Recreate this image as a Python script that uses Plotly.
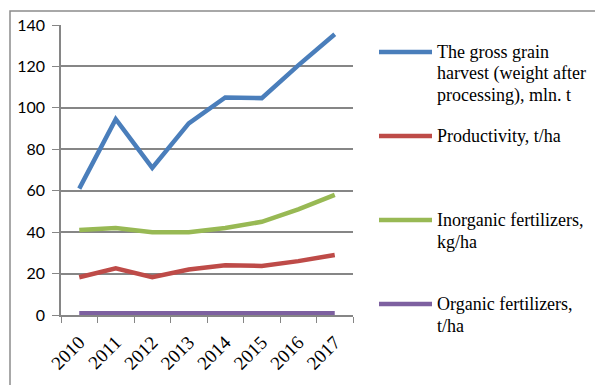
import plotly.graph_objects as go

years = ["2010", "2011", "2012", "2013", "2014", "2015", "2016", "2017"]
gross_harvest = [61, 94.5, 71, 92.5, 105, 104.7, 120.5, 135.5]
productivity = [18.2, 22.5, 18.3, 22, 24, 23.7, 26, 29]
inorganic = [41, 42, 40, 40, 42, 45, 51, 58]
organic = [0.8, 0.8, 0.8, 0.8, 0.8, 0.9, 0.9, 0.9]

names = [
    ["The gross grain", "harvest (weight after", "processing), mln. t"],
    ["Productivity, t/ha"],
    ["Inorganic fertilizers,", "kg/ha"],
    ["Organic fertilizers,", "t/ha"],
]
colors = ["#4A7EBB", "#BE4B48", "#98B954", "#7D60A0"]
series = [gross_harvest, productivity, inorganic, organic]

W, H = 595, 385
L, R, T, B = 61, 353, 25, 315

def px(x):
    return (x - L) / (R - L)

def py(y):
    return (B - y) / (B - T)

fig = go.Figure()
for vals, nm, c in zip(series, names, colors):
    fig.add_trace(go.Scatter(x=years, y=vals, mode="lines", name=" ".join(nm),
                             line=dict(color=c, width=4.5), showlegend=False))

shapes = []
annotations = []
# outer chart border
shapes.append(dict(type="rect", xref="paper", yref="paper",
                   x0=px(10), x1=px(640), y0=py(11), y1=py(420),
                   line=dict(color="#8c8c8c", width=1.5), layer="below"))
leg_y = [52, 136, 220, 304]
for nm, c, y in zip(names, colors, leg_y):
    shapes.append(dict(type="line", xref="paper", yref="paper",
                       x0=px(379), x1=px(432), y0=py(y), y1=py(y),
                       line=dict(color=c, width=4.5)))
    for i, line in enumerate(nm):
        annotations.append(dict(xref="paper", yref="paper", x=px(435), y=py(y + i * 21.5),
                                text=line, showarrow=False, xanchor="left", yanchor="middle",
                                font=dict(family="Liberation Serif", size=18, color="#000")))

fig.update_layout(
    width=W, height=H,
    margin=dict(l=L, r=W - R, t=T, b=H - B),
    paper_bgcolor="white", plot_bgcolor="white",
    shapes=shapes, annotations=annotations,
    xaxis=dict(type="category", tickangle=-45, tickson="boundaries", ticks="outside",
               ticklen=6, tickcolor="#868686", showline=True, linecolor="#868686",
               linewidth=1.5, showgrid=False, range=[-0.5, 7.5], ticklabelstandoff=7,
               tickfont=dict(family="Liberation Serif", size=19, color="#000")),
    yaxis=dict(range=[0, 140], dtick=20, ticks="outside", ticklen=7, tickcolor="#868686",
               showline=True, linecolor="#868686", linewidth=1.5, showgrid=True,
               gridcolor="#868686", gridwidth=1.5, zeroline=False, ticklabelstandoff=4,
               tickfont=dict(family="Lato", size=16, color="#000")),
)
fig.write_html("out.html")
